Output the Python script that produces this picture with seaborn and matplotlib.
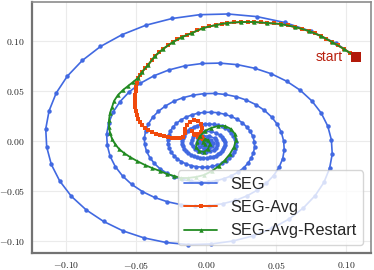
import matplotlib
matplotlib.use("Agg")
import matplotlib.pyplot as plt
import seaborn as sns
from matplotlib.ticker import FixedLocator, FuncFormatter

# SEG iterates (outer loops first, spiralling inwards)
seg_x = [
    0.1071, 0.0930, 0.0752, 0.0563, 0.0363, 0.0158, -0.0045, -0.0242, -0.0429, -0.0600,
    -0.0754, -0.0884, -0.0991, -0.1070, -0.1121, -0.1145, -0.1138, -0.1105, -0.1045, -0.0962,
    -0.0856, -0.0732, -0.0593, -0.0443, -0.0286, -0.0125, 0.0035, 0.0191, 0.0338, 0.0473,
    0.0594, 0.0696, 0.0780, 0.0843, 0.0883, 0.0902, 0.0896, 0.0870, 0.0823, 0.0757,
    0.0674, 0.0576, 0.0467, 0.0349, 0.0225, 0.0098, -0.0028, -0.0150, -0.0266, -0.0372,
    -0.0468, -0.0548, -0.0614, -0.0663, -0.0695, -0.0710, -0.0705, -0.0685, -0.0648, -0.0596,
    -0.0530, -0.0454, -0.0367, -0.0275, -0.0177, -0.0077, 0.0022, 0.0118, 0.0209, 0.0293,
    0.0368, 0.0431, 0.0483, 0.0522, 0.0548, 0.0559, 0.0555, 0.0539, 0.0510, 0.0469,
    0.0418, 0.0357, 0.0289, 0.0216, 0.0139, 0.0061, -0.0017, -0.0093, -0.0165, -0.0231,
    -0.0290, -0.0340, -0.0381, -0.0411, -0.0431, -0.0440, -0.0438, -0.0425, -0.0401, -0.0369,
    -0.0329, -0.0281, -0.0228, -0.0170, -0.0110, -0.0048, 0.0014, 0.0073, 0.0130, 0.0182,
    0.0228, 0.0268, 0.0300, 0.0323, 0.0339, 0.0347, 0.0345, 0.0335, 0.0317, 0.0291,
    0.0259, 0.0222, 0.0179, 0.0134, 0.0087, 0.0038, -0.0011, -0.0058, -0.0102, -0.0143,
    -0.0180, -0.0211, -0.0236, -0.0255, -0.0267, -0.0273, -0.0272, -0.0263, -0.0249, -0.0229,
    -0.0204, -0.0175, -0.0141, -0.0106, -0.0068, -0.0030, 0.0008, 0.0045, 0.0080, 0.0113,
    0.0142, 0.0166, 0.0186, 0.0201, 0.0210, 0.0215, 0.0214, 0.0207, 0.0196, 0.0180,
    0.0161, 0.0138, 0.0111, 0.0083, 0.0054, 0.0023, -0.0007, -0.0036, -0.0063, -0.0089,
    -0.0111, -0.0131, -0.0147, -0.0159, -0.0166, -0.0170, -0.0168, -0.0163, -0.0155, -0.0143,
    -0.0127, -0.0108, -0.0088, -0.0066, -0.0042, -0.0018, 0.0005, 0.0028, 0.0050, 0.0070,
    0.0088, 0.0103, 0.0115, 0.0125, 0.0131, 0.0133, 0.0133, 0.0129, 0.0122, 0.0112,
    0.0099, 0.0069, 0.0033, -0.0004, -0.0039, -0.0069, -0.0090, -0.0103, -0.0104, -0.0096,
    -0.0078, -0.0054, -0.0026, 0.0003, 0.0031, 0.0054, 0.0071, 0.0081, 0.0082, 0.0075,
    0.0061, 0.0020, -0.0024, -0.0056, -0.0064, -0.0048, -0.0016, 0.0019, 0.0044, 0.0051,
    0.0038, 0.0005, -0.0026, -0.0040, -0.0030, -0.0004, 0.0021, 0.0032,
    0.0018, 0.0004, -0.0008, -0.0006,
]
seg_y = [
    0.0840, 0.0976, 0.1096, 0.1185, 0.1244, 0.1270, 0.1263, 0.1225, 0.1158, 0.1063,
    0.0945, 0.0805, 0.0648, 0.0480, 0.0302, 0.0121, -0.0060, -0.0235, -0.0400, -0.0553,
    -0.0689, -0.0804, -0.0899, -0.0969, -0.1015, -0.1036, -0.1030, -0.1001, -0.0948, -0.0873,
    -0.0780, -0.0669, -0.0546, -0.0413, -0.0274, -0.0131, 0.0011, 0.0149, 0.0280, 0.0400,
    0.0507, 0.0598, 0.0672, 0.0727, 0.0763, 0.0779, 0.0775, 0.0752, 0.0710, 0.0652,
    0.0578, 0.0492, 0.0394, 0.0290, 0.0180, 0.0067, -0.0045, -0.0153, -0.0256, -0.0350,
    -0.0435, -0.0506, -0.0565, -0.0608, -0.0637, -0.0650, -0.0646, -0.0628, -0.0595, -0.0549,
    -0.0490, -0.0422, -0.0346, -0.0264, -0.0177, -0.0089, -0.0001, 0.0085, 0.0166, 0.0240,
    0.0306, 0.0363, 0.0409, 0.0443, 0.0465, 0.0476, 0.0473, 0.0458, 0.0433, 0.0397,
    0.0350, 0.0297, 0.0237, 0.0172, 0.0104, 0.0034, -0.0035, -0.0103, -0.0166, -0.0225,
    -0.0277, -0.0321, -0.0357, -0.0385, -0.0402, -0.0410, -0.0408, -0.0397, -0.0376, -0.0348,
    -0.0312, -0.0270, -0.0222, -0.0171, -0.0117, -0.0063, -0.0008, 0.0045, 0.0095, 0.0141,
    0.0183, 0.0218, 0.0246, 0.0267, 0.0282, 0.0288, 0.0286, 0.0278, 0.0261, 0.0238,
    0.0210, 0.0176, 0.0139, 0.0099, 0.0057, 0.0014, -0.0030, -0.0071, -0.0111, -0.0147,
    -0.0180, -0.0207, -0.0230, -0.0247, -0.0257, -0.0262, -0.0261, -0.0254, -0.0241, -0.0224,
    -0.0201, -0.0175, -0.0145, -0.0114, -0.0080, -0.0046, -0.0013, 0.0020, 0.0051, 0.0080,
    0.0106, 0.0128, 0.0145, 0.0158, 0.0166, 0.0171, 0.0170, 0.0165, 0.0154, 0.0140,
    0.0123, 0.0102, 0.0079, 0.0054, 0.0028, 0.0001, -0.0026, -0.0052, -0.0076, -0.0099,
    -0.0119, -0.0136, -0.0150, -0.0160, -0.0167, -0.0170, -0.0170, -0.0165, -0.0157, -0.0146,
    -0.0133, -0.0116, -0.0098, -0.0078, -0.0058, -0.0036, -0.0015, 0.0005, 0.0024, 0.0042,
    0.0058, 0.0082, 0.0095, 0.0097, 0.0088, 0.0068, 0.0041, 0.0010, -0.0024, -0.0055,
    -0.0081, -0.0100, -0.0111, -0.0112, -0.0105, -0.0089, -0.0068, -0.0043, -0.0017, 0.0007,
    0.0028, 0.0051, 0.0047, 0.0018, -0.0022, -0.0058, -0.0077, -0.0073, -0.0050, -0.0018,
    0.0010, 0.0025, 0.0014, -0.0015, -0.0043, -0.0056, -0.0047, -0.0024,
    -0.0004, -0.0008, -0.0022, -0.0020,
]

# SEG-Avg iterates
avg_x = [
    0.1071, 0.1029, 0.0986, 0.0943, 0.0900, 0.0861, 0.0821, 0.0779, 0.0736, 0.0686,
    0.0636, 0.0586, 0.0536, 0.0486, 0.0436, 0.0390, 0.0343, 0.0297, 0.0250, 0.0200,
    0.0150, 0.0111, 0.0071, 0.0025, -0.0021, -0.0061, -0.0100, -0.0136, -0.0171, -0.0204,
    -0.0236, -0.0271, -0.0307, -0.0336, -0.0364, -0.0389, -0.0414, -0.0436, -0.0457, -0.0471,
    -0.0486, -0.0493, -0.0500, -0.0500, -0.0507, -0.0507, -0.0507, -0.0507, -0.0500, -0.0493,
    -0.0486, -0.0471, -0.0457, -0.0436, -0.0414, -0.0386, -0.0357, -0.0329, -0.0300, -0.0271,
    -0.0243, -0.0214, -0.0186, -0.0164, -0.0150, -0.0150, -0.0136, -0.0114, -0.0086, -0.0057,
    -0.0036, -0.0029, -0.0036, -0.0057, -0.0086, -0.0100, -0.0079, -0.0057, -0.0036, -0.0021,
    -0.0029, -0.0043,
]
avg_y = [
    0.0840, 0.0880, 0.0920, 0.0955, 0.0990, 0.1020, 0.1050, 0.1075, 0.1100, 0.1120,
    0.1140, 0.1155, 0.1170, 0.1175, 0.1180, 0.1185, 0.1190, 0.1190, 0.1190, 0.1185,
    0.1180, 0.1170, 0.1160, 0.1145, 0.1130, 0.1105, 0.1080, 0.1060, 0.1040, 0.1015,
    0.0990, 0.0955, 0.0920, 0.0885, 0.0850, 0.0805, 0.0760, 0.0725, 0.0690, 0.0660,
    0.0630, 0.0580, 0.0540, 0.0500, 0.0460, 0.0420, 0.0380, 0.0340, 0.0300, 0.0260,
    0.0220, 0.0190, 0.0160, 0.0130, 0.0110, 0.0090, 0.0070, 0.0060, 0.0050, 0.0040,
    0.0030, 0.0030, 0.0030, 0.0040, 0.0080, 0.0120, 0.0160, 0.0190, 0.0210, 0.0200,
    0.0170, 0.0130, 0.0090, 0.0070, 0.0070, 0.0100, 0.0060, 0.0040, 0.0030, 0.0020,
    0.0040, 0.0030,
]

# SEG-Avg-Restart iterates
rst_x = [
    0.1071, 0.0986, 0.0900, 0.0821, 0.0736, 0.0636, 0.0536, 0.0436, 0.0343, 0.0250,
    0.0150, 0.0071, -0.0021, -0.0100, -0.0171, -0.0236, -0.0307, -0.0364, -0.0414, -0.0457,
    -0.0486, -0.0521, -0.0557, -0.0593, -0.0629, -0.0657, -0.0671, -0.0686, -0.0693, -0.0693,
    -0.0686, -0.0671, -0.0650, -0.0621, -0.0586, -0.0543, -0.0493, -0.0436, -0.0386, -0.0329,
    -0.0279, -0.0229, -0.0179, -0.0129, -0.0071, -0.0014, 0.0043, 0.0093, 0.0136, 0.0171,
    0.0200, 0.0214, 0.0207, 0.0179, 0.0136, 0.0086, 0.0036, -0.0007, -0.0043, -0.0064,
    -0.0071, -0.0050, -0.0014, 0.0014, 0.0029, 0.0014, -0.0007, -0.0021, -0.0007,
]
rst_y = [
    0.0840, 0.0920, 0.0990, 0.1050, 0.1100, 0.1140, 0.1170, 0.1180, 0.1190, 0.1190,
    0.1180, 0.1160, 0.1130, 0.1080, 0.1040, 0.0990, 0.0920, 0.0850, 0.0760, 0.0690,
    0.0630, 0.0590, 0.0550, 0.0510, 0.0460, 0.0400, 0.0340, 0.0280, 0.0210, 0.0140,
    0.0080, 0.0020, -0.0030, -0.0080, -0.0120, -0.0160, -0.0200, -0.0240, -0.0270, -0.0300,
    -0.0330, -0.0350, -0.0370, -0.0370, -0.0360, -0.0340, -0.0300, -0.0250, -0.0190, -0.0130,
    -0.0060, 0.0010, 0.0070, 0.0120, 0.0150, 0.0150, 0.0130, 0.0100, 0.0050, -0.0010,
    -0.0060, -0.0100, -0.0110, -0.0080, -0.0030, 0.0010, 0.0020, -0.0010, -0.0030,
]

ticks = [-0.10, -0.05, 0.00, 0.05, 0.10]

sns.set_style("white")
plt.rcParams["font.family"] = ["Liberation Sans", "DejaVu Sans"]
plt.rcParams["mathtext.fontset"] = "cm"

fig = plt.figure(figsize=(3.74, 2.70), dpi=100)
ax = fig.add_axes([0.0856, 0.063, 0.9064, 0.9296])

sns.lineplot(x=seg_x, y=seg_y, sort=False, estimator=None, ax=ax,
             color="#4169e1", linewidth=1.2, marker="o", markersize=3.2,
             markeredgewidth=0, label="SEG")
sns.lineplot(x=avg_x, y=avg_y, sort=False, estimator=None, ax=ax,
             color="#f04a0c", linewidth=1.4, marker="s", markersize=2.3,
             markeredgewidth=0, label="SEG-Avg")
sns.lineplot(x=rst_x, y=rst_y, sort=False, estimator=None, ax=ax,
             color="#228b22", linewidth=1.3, marker="^", markersize=3.2,
             markeredgewidth=0, label="SEG-Avg-Restart")

# start point
sns.scatterplot(x=[seg_x[0]], y=[seg_y[0]], marker="s", s=55, color="#b31a0a",
                edgecolor="none", ax=ax, zorder=6, legend=False)
ax.text(seg_x[0] - 0.0092, seg_y[0] - 0.0005, "start", color="#b8200e",
        fontsize=10, ha="right", va="center")

ax.set_xlim(-0.1243, 0.1179)
ax.set_ylim(-0.112, 0.139)
ax.xaxis.set_major_locator(FixedLocator(ticks))
ax.yaxis.set_major_locator(FixedLocator(ticks))
fmt = FuncFormatter(lambda v, p: r"$%.2f$" % v)
ax.xaxis.set_major_formatter(fmt)
ax.yaxis.set_major_formatter(fmt)
ax.tick_params(axis="both", which="major", direction="out", length=3, width=0.8,
               color="0.35", labelsize=7, pad=2)
ax.grid(True, color="0.92", linewidth=0.8)
ax.set_axisbelow(True)

for side in ["top", "right"]:
    ax.spines[side].set_color("0.55")
    ax.spines[side].set_linewidth(1.2)
for side in ["left", "bottom"]:
    ax.spines[side].set_color("0.45")
    ax.spines[side].set_linewidth(1.6)

ax.legend(loc="lower right", fontsize=11.8, framealpha=0.8, edgecolor="0.8")

fig.savefig("out.png", dpi=100)
